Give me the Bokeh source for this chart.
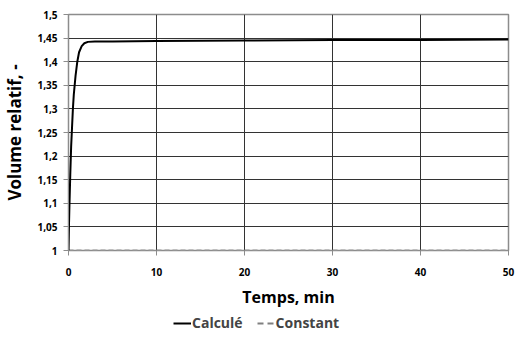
from bokeh.plotting import figure
from bokeh.layouts import column
from bokeh.models import FixedTicker, Legend, LegendItem
from bokeh.embed import file_html
from bokeh.resources import INLINE

# Data
t_calc = [0, 0.05, 0.1, 0.2, 0.3, 0.4, 0.5, 0.6, 0.8, 1.0, 1.2, 1.5, 1.8, 2.2, 3, 5, 10, 20, 30, 40, 50]
v_calc = [1.0, 1.05, 1.09, 1.16, 1.22, 1.26, 1.30, 1.33, 1.37, 1.40, 1.42, 1.433, 1.439, 1.442, 1.443, 1.443, 1.444, 1.445, 1.446, 1.446, 1.447]
t_const = [0, 50]
v_const = [1.0, 1.0]

x_ticks = [0, 10, 20, 30, 40, 50]
x_labels = ["0", "10", "20", "30", "40", "50"]
y_ticks = [1.0, 1.05, 1.1, 1.15, 1.2, 1.25, 1.3, 1.35, 1.4, 1.45, 1.5]
y_labels = ["1", "1,05", "1,1", "1,15", "1,2", "1,25", "1,3", "1,35", "1,4", "1,45", "1,5"]
series_names = ["Calculé", "Constant"]

FONT = "Open Sans"

p = figure(width=516, height=312, x_range=(0, 50), y_range=(1.0, 1.5),
           output_backend="svg", toolbar_location=None,
           min_border_left=68, min_border_right=8, min_border_top=14, min_border_bottom=62)
p.outline_line_color = "#8c8c8c"
p.outline_line_width = 1.5
p.background_fill_color = "white"
p.border_fill_color = "white"

# Axes
p.xaxis.ticker = FixedTicker(ticks=x_ticks)
p.xaxis.major_label_overrides = dict(zip(x_ticks, x_labels))
p.yaxis.ticker = FixedTicker(ticks=y_ticks)
p.yaxis.major_label_overrides = dict(zip(y_ticks, y_labels))
for ax in (p.xaxis, p.yaxis):
    ax.major_label_text_font = FONT
    ax.major_label_text_font_style = "bold"
    ax.major_label_text_font_size = "10px"
    ax.major_label_text_color = "#000000"
    ax.axis_line_color = "#8c8c8c"
    ax.major_tick_line_color = "#8c8c8c"
    ax.major_tick_out = 5
    ax.major_tick_in = 0
    ax.minor_tick_line_color = None
    ax.axis_label_text_font = FONT
    ax.axis_label_text_font_style = "bold"
    ax.axis_label_text_color = "#000000"
p.xaxis.axis_line_color = None
p.xaxis.axis_label_text_font_size = "16px"
p.yaxis.axis_label_text_font_size = "17px"
p.xaxis.axis_label = "Temps, min"
p.yaxis.axis_label = "Volume relatif, -"
p.xaxis.major_label_standoff = 12
p.xaxis.axis_label_standoff = 7
p.yaxis.major_label_standoff = 6
p.yaxis.axis_label_standoff = 8

p.xgrid.ticker = FixedTicker(ticks=x_ticks)
p.ygrid.ticker = FixedTicker(ticks=y_ticks)
p.grid.grid_line_color = "#333333"
p.grid.grid_line_width = 1

p.line(t_const, v_const, line_color="#999999", line_width=2, line_dash="5 3")
p.line(t_calc, v_calc, line_color="#000000", line_width=2)

# Legend in its own strip below the chart (series drawn out of view, only legend shows)
lf = figure(width=516, height=28, output_backend="svg", toolbar_location=None,
            x_range=(-20, -10), y_range=(-20, -10), min_border=0,
            x_axis_type=None, y_axis_type=None)
lf.grid.visible = False
lf.outline_line_color = None
r_calc = lf.line(t_calc, v_calc, line_color="#000000", line_width=2)
r_const = lf.line(t_const, v_const, line_color="#808080", line_width=2, line_dash="6 4")
legend = Legend(items=[LegendItem(label=series_names[0], renderers=[r_calc]),
                       LegendItem(label=series_names[1], renderers=[r_const])],
                orientation="horizontal", location=(105, 8),
                label_text_font=FONT, label_text_font_style="bold",
                label_text_font_size="14px", glyph_width=18, glyph_height=10,
                label_standoff=1, spacing=14, padding=2, margin=0,
                border_line_color=None, background_fill_alpha=0)
lf.add_layout(legend, "center")

layout = column(p, lf, spacing=0)
open("out.html", "w").write(file_html(layout, INLINE))
